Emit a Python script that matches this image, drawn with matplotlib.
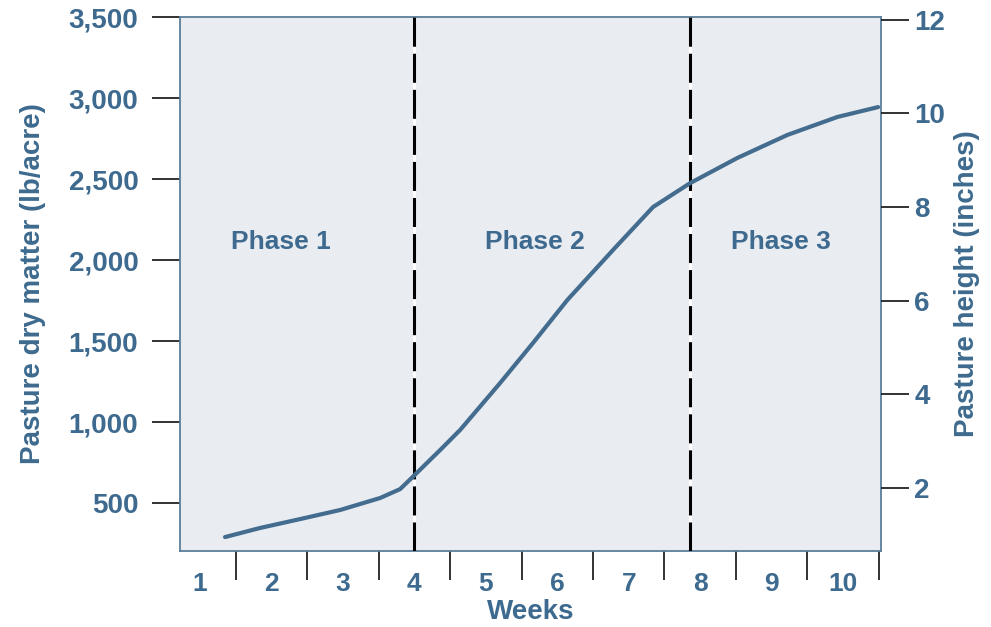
import numpy as np
import matplotlib.pyplot as plt
from matplotlib.ticker import FixedLocator, NullFormatter

# pasture growth curve
weeks = [1.35, 1.84, 2.40, 2.96, 3.52, 3.80, 3.99, 4.36, 4.64, 5.20, 5.66,
         6.14, 6.78, 7.34, 7.86, 8.52, 9.22, 9.92, 10.49]
dry_matter = [290, 346, 401, 457, 531, 586, 667, 827, 951, 1241, 1488,
              1753, 2062, 2327, 2475, 2630, 2772, 2883, 2944]

week_labels = [str(i) for i in range(1, 11)]
week_pos = list(range(1, 11))
week_edges = [i + 0.5 for i in range(1, 11)]

dm_ticks = [500, 1000, 1500, 2000, 2500, 3000, 3500]
height_ticks = [2, 4, 6, 8, 10, 12]

phase_bounds = [4.0, 7.86]
phase_names = ['Phase 1', 'Phase 2', 'Phase 3']
phase_x = [2.13, 5.69, 9.13]
phase_y = 2110

txt = '#3d6a8e'
line_c = '#436c8e'
fam = ['Liberation Sans', 'DejaVu Sans']

plt.rcParams['font.family'] = fam

fig = plt.figure(figsize=(9.91, 6.27), dpi=100)
ax = fig.add_axes([180/991, 76/627, 701/991, 534/627])
ax.set_facecolor('#e9ecf1')
for s in ax.spines.values():
    s.set_color('#5b7e9b')
    s.set_linewidth(1.3)

ax.set_xlim(0.72, 10.53)
ax.set_ylim(204, 3500)

# phase dividers: white gaps under black dashes
for xb in phase_bounds:
    ax.axvline(xb, color='white', lw=2.2, zorder=2)
    ax.axvline(xb, color='black', lw=2.2, dashes=(9.5, 2.3), zorder=3)

ax.plot(weeks, dry_matter, color=line_c, lw=3, solid_capstyle='round', zorder=4)

for name, xp in zip(phase_names, phase_x):
    ax.text(xp, phase_y, name, color=txt, fontsize=19, fontweight='bold',
            ha='center', va='center')

# x axis: tick marks at week edges, labels centred on weeks
ax.xaxis.set_major_locator(FixedLocator(week_edges))
ax.xaxis.set_major_formatter(NullFormatter())
ax.xaxis.set_minor_locator(FixedLocator(week_pos))
ax.set_xticklabels(week_labels, minor=True)
ax.tick_params(axis='x', which='major', length=21, width=1.3, color='#222222')
ax.tick_params(axis='x', which='minor', length=0, pad=15, labelsize=19,
               labelcolor=txt)
for lab in ax.get_xticklabels(minor=True):
    lab.set_fontweight('bold')
ax.set_xlabel('Weeks', color=txt, fontsize=20, fontweight='bold', labelpad=2)

ax.set_yticks(dm_ticks)
ax.set_yticklabels([f'{v:,}' for v in dm_ticks])
ax.tick_params(axis='y', length=20, width=1.3, color='#222222', pad=10,
               labelsize=20, labelcolor=txt)
for lab in ax.get_yticklabels():
    lab.set_fontweight('bold')
ax.set_ylabel('Pasture dry matter (lb/acre)', color=txt, fontsize=20,
              fontweight='bold', labelpad=16)

ax2 = ax.twinx()
ax2.set_ylim(0.65, 12.06)
ax2.set_yticks(height_ticks)
ax2.tick_params(axis='y', length=20, width=1.3, color='#222222', pad=4,
                labelsize=20, labelcolor=txt)
for lab in ax2.get_yticklabels():
    lab.set_fontweight('bold')
for s in ax2.spines.values():
    s.set_visible(False)
ax2.set_ylabel('Pasture height (inches)', color=txt, fontsize=20,
               fontweight='bold', labelpad=6)

fig.savefig('out.png', dpi=100)
